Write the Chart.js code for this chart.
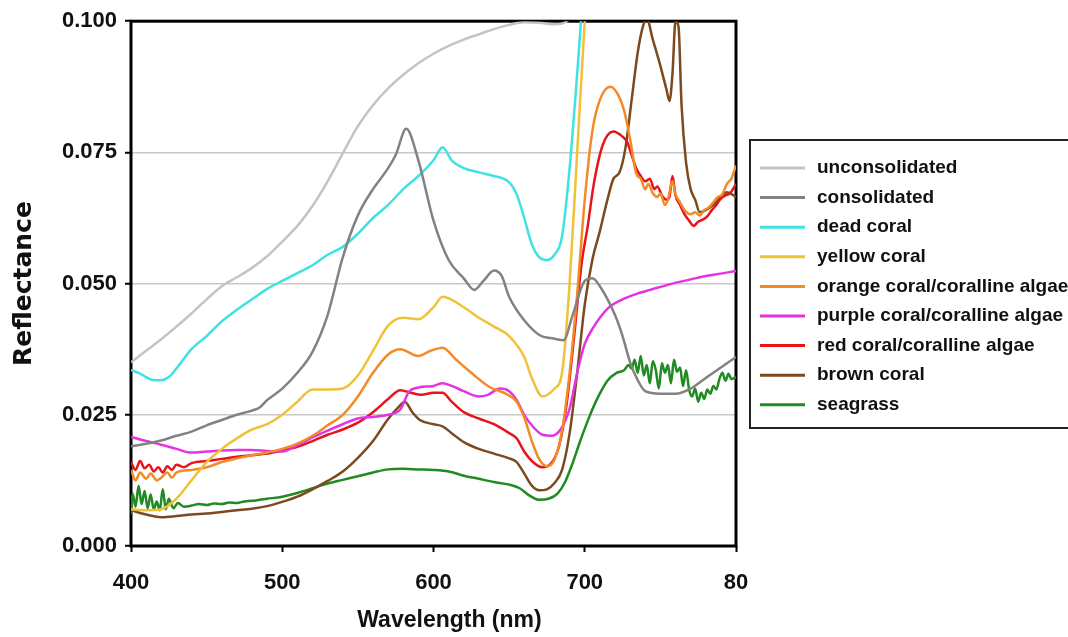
<!DOCTYPE html>
<html>
<head>
<meta charset="utf-8">
<script src="https://cdn.jsdelivr.net/npm/chart.js@4.4.1/dist/chart.umd.min.js"></script>
<style>
  html, body { margin: 0; padding: 0; background: #fff; overflow: hidden; }
  #wrap { width: 1068px; height: 637px; position: relative; }
</style>
</head>
<body>
<div id="wrap"><canvas id="spectra"></canvas></div>
<script>
// series labels and colours (legend order)
const seriesNames = ['unconsolidated', 'consolidated', 'dead coral', 'yellow coral',
  'orange coral/coralline algae', 'purple coral/coralline algae', 'red coral/coralline algae',
  'brown coral', 'seagrass'];
const seriesColors = ['#c4c4c4', '#828282', '#3fe2e2', '#f0c238', '#f28a26', '#e433e4', '#e8141c', '#7b4a1e', '#228a22'];

const xTickLabels = ['400', '500', '600', '700', '80'];
const yTickLabels = ['0.000', '0.025', '0.050', '0.075', '0.100'];

// wavelength (nm) / reflectance
const unconsWl = [400,410,420,430,440,450,460,470,480,490,500,510,520,530,540,550,560,570,580,590,600,610,620,630,640,650,660,670,680,690,700,720,760,800];
const unconsR  = [.0350,.0372,.0394,.0418,.0443,.0470,.0495,.0512,.0530,.0552,.0580,.0610,.0648,.0695,.0748,.0800,.0840,.0872,.0898,.0920,.0938,.0953,.0965,.0975,.0985,.0993,.0998,.0997,.0994,.1005,.1060,.1150,.1250,.1300];

const consWl = [400,410,420,430,440,450,460,470,480,485,490,500,510,520,530,540,550,560,570,575,582,590,600,610,620,627,633,640,645,650,660,670,680,686,692,700,705,710,720,725,730,735,740,750,760,770,780,790,800];
const consR  = [.0190,.0195,.0201,.0210,.0218,.0230,.0240,.0250,.0258,.0264,.0278,.0300,.0330,.0370,.0440,.0550,.0630,.0680,.0720,.0745,.0795,.0735,.0620,.0545,.0510,.0488,.0505,.0525,.0515,.0475,.0430,.0402,.0395,.0392,.0440,.0505,.0510,.0495,.0440,.0400,.0350,.0316,.0295,.0290,.0290,.0300,.0320,.0340,.0360];

const deadWl = [400,405,410,415,420,425,430,440,450,460,470,480,490,500,510,520,530,540,550,560,570,580,590,600,606,612,620,630,640,650,655,660,665,670,675,680,685,690,695,700,705];
const deadR  = [.0335,.0330,.0322,.0316,.0316,.0322,.0338,.0375,.0400,.0428,.0450,.0470,.0490,.0505,.0520,.0535,.0555,.0570,.0595,.0625,.0650,.0680,.0705,.0735,.0760,.0735,.0720,.0712,.0705,.0693,.0670,.0625,.0575,.0550,.0545,.0555,.0590,.0720,.0900,.1100,.1300];

const yellowWl = [400,410,420,430,440,450,460,470,480,490,500,510,520,530,540,550,560,570,580,590,600,606,620,630,640,650,660,665,672,680,685,690,695,700,705];
const yellowR  = [.0070,.0068,.0070,.0090,.0125,.0160,.0185,.0205,.0222,.0232,.0250,.0275,.0298,.0298,.0300,.0325,.0372,.0420,.0435,.0432,.0455,.0475,.0455,.0435,.0418,.0400,.0360,.0320,.0285,.0300,.0330,.0500,.0750,.1000,.1200];

const orangeWl = [400,403,406,410,413,417,420,424,427,430,440,450,460,470,480,490,500,510,520,530,540,550,560,570,578,590,598,606,615,625,637,648,655,660,665,670,675,680,685,690,695,700,705,710,717,722,726,730,734,737,740,742,745,748,750,753,755,758,760,763,766,770,773,776,779,782,785,788,791,794,797,800];
const orangeR  = [.0145,.0125,.0140,.0128,.0138,.0125,.0130,.0140,.0130,.0140,.0145,.0150,.0160,.0167,.0173,.0178,.0185,.0195,.0210,.0230,.0250,.0285,.0330,.0365,.0375,.0362,.0372,.0378,.0355,.0330,.0303,.0290,.0275,.0245,.0200,.0165,.0152,.0165,.0220,.0330,.0480,.0660,.0790,.0850,.0875,.0860,.0830,.0775,.0710,.0700,.0680,.0690,.0672,.0665,.0672,.0650,.0660,.0695,.0670,.0655,.0640,.0632,.0636,.0630,.0640,.0645,.0655,.0665,.0670,.0690,.0700,.0725];

const purpleWl = [400,410,420,430,440,450,460,470,480,490,500,510,520,530,540,550,560,570,578,584,590,600,606,612,620,630,636,644,650,655,660,665,672,678,684,690,695,700,706,715,725,736,748,758,770,781,790,800];
const purpleR  = [.0208,.0200,.0193,.0185,.0178,.0180,.0182,.0183,.0183,.0181,.0180,.0192,.0207,.0220,.0232,.0243,.0246,.0250,.0260,.0295,.0302,.0305,.0310,.0305,.0295,.0285,.0288,.0300,.0295,.0278,.0250,.0230,.0212,.0210,.0222,.0262,.0330,.0385,.0418,.0452,.0470,.0482,.0492,.0500,.0508,.0515,.0519,.0524];

const redWl = [400,403,406,409,412,415,418,421,424,427,430,435,440,450,460,470,480,490,500,510,520,530,540,550,560,570,578,585,592,600,606,612,620,630,640,650,655,660,665,672,678,683,688,693,698,702,706,712,719,725,728,731,734,737,740,743,746,748,751,754,756,758,760,763,766,769,772,775,778,781,784,787,790,793,796,800];
const redR  = [.0160,.0145,.0162,.0148,.0155,.0142,.0150,.0140,.0152,.0145,.0155,.0150,.0158,.0162,.0166,.0170,.0173,.0176,.0182,.0189,.0200,.0212,.0222,.0235,.0255,.0280,.0297,.0292,.0288,.0292,.0292,.0275,.0255,.0243,.0232,.0215,.0205,.0180,.0162,.0150,.0158,.0190,.0270,.0400,.0540,.0610,.0690,.0765,.0790,.0780,.0770,.0745,.0720,.0705,.0695,.0700,.0680,.0685,.0668,.0660,.0665,.0705,.0668,.0650,.0632,.0620,.0610,.0618,.0622,.0628,.0640,.0650,.0662,.0668,.0672,.0690];

const brownWl = [400,410,420,430,440,450,460,470,480,490,500,510,520,530,540,550,560,570,577,581,586,591,600,606,612,620,630,640,650,655,660,665,670,675,680,685,690,695,700,705,710,715,719,723,727,731,735,738,741,745,750,754,756,758,760,762,764,767,770,773,776,780,785,790,794,800];
const brownR  = [.0068,.0060,.0055,.0057,.0060,.0062,.0065,.0068,.0071,.0076,.0084,.0094,.0108,.0124,.0142,.0168,.0200,.0242,.0265,.0275,.0255,.0240,.0232,.0228,.0215,.0198,.0185,.0176,.0167,.0160,.0138,.0115,.0106,.0108,.0120,.0145,.0215,.0330,.0460,.0545,.0600,.0660,.0700,.0712,.0760,.0850,.0940,.0985,.1005,.0965,.0915,.0870,.0848,.0900,.1000,.0990,.0840,.0730,.0680,.0660,.0636,.0640,.0650,.0665,.0674,.0665];

const seagrassWl = [400,401,403,405,407,409,411,413,415,417,419,421,423,425,428,431,435,440,445,450,455,460,465,470,475,480,485,490,500,510,520,530,540,550,560,570,580,590,600,610,620,630,640,650,657,663,670,676,682,687,692,697,703,709,715,721,726,729,731,733,735,737,739,741,743,745,747,749,751,753,755,757,759,761,763,765,767,769,771,773,775,777,779,781,783,785,787,789,791,793,795,797,800];
const seagrassR  = [.0060,.0100,.0075,.0115,.0080,.0105,.0072,.0098,.0070,.0085,.0068,.0108,.0070,.0090,.0072,.0082,.0075,.0077,.0080,.0078,.0081,.0080,.0083,.0082,.0085,.0086,.0088,.0090,.0094,.0101,.0110,.0119,.0126,.0133,.0140,.0146,.0147,.0146,.0145,.0142,.0134,.0128,.0122,.0117,.0110,.0097,.0088,.0090,.0100,.0122,.0158,.0200,.0246,.0285,.0315,.0330,.0335,.0345,.0338,.0355,.0330,.0362,.0325,.0345,.0310,.0352,.0335,.0300,.0348,.0330,.0345,.0310,.0355,.0332,.0340,.0305,.0335,.0298,.0285,.0300,.0275,.0292,.0280,.0298,.0290,.0305,.0298,.0318,.0330,.0315,.0328,.0318,.0322];

const seriesWl = [unconsWl, consWl, deadWl, yellowWl, orangeWl, purpleWl, redWl, brownWl, seagrassWl];
const seriesR  = [unconsR, consR, deadR, yellowR, orangeR, purpleR, redR, brownR, seagrassR];

const FONT = "'Liberation Sans', Arial, sans-serif";
Chart.defaults.font.family = FONT;
Chart.defaults.color = '#111';

// black frame around the plot area
const framePlugin = {
  id: 'frame',
  beforeDatasetsDraw(chart) {
    const { ctx, chartArea: a } = chart;
    ctx.save();
    ctx.strokeStyle = '#000';
    ctx.lineWidth = 3;
    ctx.strokeRect(a.left, a.top, a.right - a.left, a.bottom - a.top);
    ctx.restore();
  }
};

// boxed legend to the right of the plot
const boxLegend = {
  id: 'boxLegend',
  afterDraw(chart) {
    const ctx = chart.ctx;
    const left = 750, top = 140, bottom = 428;
    ctx.save();
    ctx.fillStyle = '#fff';
    ctx.fillRect(left, top, 400, bottom - top);
    ctx.strokeStyle = '#222';
    ctx.lineWidth = 2;
    ctx.strokeRect(left, top, 400, bottom - top);
    ctx.font = 'bold 19px ' + FONT;
    ctx.textBaseline = 'middle';
    ctx.fillStyle = '#111';
    chart.data.datasets.forEach((ds, i) => {
      const y = 168 + i * 29.6;
      ctx.strokeStyle = ds.borderColor;
      ctx.lineWidth = 3;
      ctx.beginPath();
      ctx.moveTo(760, y);
      ctx.lineTo(805, y);
      ctx.stroke();
      ctx.fillText(ds.label, 817, y);
    });
    ctx.restore();
  }
};

const datasets = seriesNames.map((name, i) => ({
  label: name,
  data: seriesWl[i].map((w, j) => ({ x: w, y: seriesR[i][j] })),
  borderColor: seriesColors[i],
  backgroundColor: seriesColors[i],
  borderWidth: 2.5,
  pointRadius: 0,
  cubicInterpolationMode: 'monotone',
  fill: false
}));

new Chart(document.getElementById('spectra'), {
  type: 'line',
  data: { datasets: datasets },
  options: {
    responsive: true,
    maintainAspectRatio: false,
    animation: false,
    layout: { padding: { top: 21, right: 332, left: 0, bottom: 0 } },
    plugins: {
      legend: { display: false },
      tooltip: { enabled: false }
    },
    scales: {
      x: {
        type: 'linear',
        min: 400,
        max: 800,
        afterFit(scale) { scale.height = 91; },
        border: { display: false },
        grid: { drawOnChartArea: false, drawTicks: true, tickLength: 6, tickColor: '#000', tickWidth: 2 },
        ticks: {
          stepSize: 100,
          padding: 18,
          color: '#111',
          font: { size: 22, weight: 'bold' },
          maxRotation: 0,
          callback: (v, i) => xTickLabels[i]
        },
        title: {
          display: true,
          text: '     Wavelength (nm)',
          color: '#111',
          font: { size: 23, weight: 'bold' },
          padding: { top: 0, bottom: 3 }
        }
      },
      y: {
        min: 0,
        max: 0.1,
        afterFit(scale) { scale.width = 131; },
        border: { display: false },
        grid: { color: '#c8c8c8', lineWidth: 1.5, drawTicks: true, tickLength: 6, tickColor: '#000', tickWidth: 2 },
        ticks: {
          stepSize: 0.025,
          padding: 8,
          color: '#111',
          font: { size: 22, weight: 'bold' },
          callback: (v, i) => yTickLabels[i]
        },
        title: {
          display: true,
          text: 'Reflectance',
          color: '#111',
          font: { family: "'DejaVu Sans', sans-serif", size: 25, weight: 'bold' },
          padding: { top: 9, bottom: 0 }
        }
      }
    }
  },
  plugins: [framePlugin, boxLegend]
});
</script>
</body>
</html>
